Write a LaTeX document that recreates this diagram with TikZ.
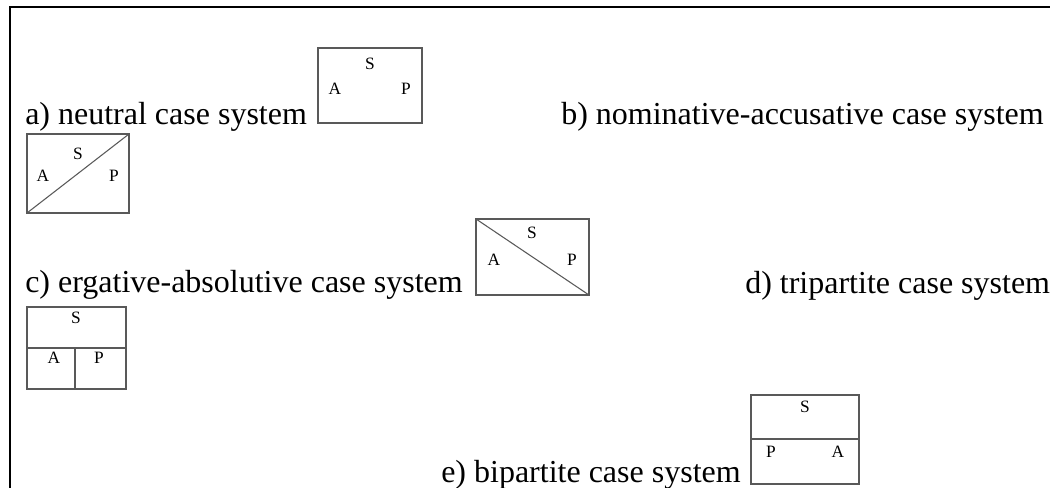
\documentclass[tikz,border=0pt]{standalone}
\usepackage{fontspec}
\setmainfont{Liberation Serif}
\begin{document}
\begin{tikzpicture}[x=0.75pt,y=-0.75pt,
  caption/.style={anchor=base west,inner sep=0pt,font=\fontsize{24}{28}\selectfont},
  lbl/.style={inner sep=0pt,font=\fontsize{13}{15}\selectfont},
  frame/.style={draw=black,line width=2.2pt},
  cbox/.style={draw=black!65,line width=0.8pt},
  cline/.style={draw=black!65,line width=0.8pt}]
\useasboundingbox (0,0) rectangle (1050,488);
\begin{scope}
\clip (0,0) rectangle (1050,488);
\draw[frame] (1060,7) -- (10,7) -- (10,500);
\end{scope}
% a
\node[caption] (ta) at (25,125) {a) neutral case system};
\draw[cbox] (318,48) rectangle (422,123);
\node[lbl] (aS) at (370,64) {S};
\node[lbl] (aA) at (335,89) {A};
\node[lbl] (aP) at (406,89) {P};
% b
\node[caption] (tb) at (561,125) {b) nominative-accusative case system};
\coordinate (bsw) at (27,213);
\coordinate (bne) at (129,134);
\draw[cbox] (bsw) rectangle (bne);
\draw[cline] (bsw) -- (bne);
\node[lbl] (bS) at (78,154) {S};
\node[lbl] (bA) at (43,176) {A};
\node[lbl] (bP) at (114,176) {P};
% c
\node[caption] (tc) at (25,293) {c) ergative-absolutive case system};
\coordinate (cnw) at (476,219);
\coordinate (cse) at (589,295);
\draw[cbox] (cnw) rectangle (cse);
\draw[cline] (cnw) -- (cse);
\node[lbl] (cS) at (532,233) {S};
\node[lbl] (cA) at (494,260) {A};
\node[lbl] (cP) at (572,260) {P};
% d
\node[caption] (td) at (745,294) {d) tripartite case system};
\draw[cbox] (27,307) rectangle (126,389);
\coordinate (dml) at (27,348);
\coordinate (dmr) at (126,348);
\coordinate (dmt) at (75,348);
\coordinate (dmb) at (75,389);
\draw[cline] (dml) -- (dmr);
\draw[cline] (dmt) -- (dmb);
\node[lbl] (dS) at (76,318) {S};
\node[lbl] (dA) at (54,358) {A};
\node[lbl] (dP) at (99,358) {P};
% e
\node[caption] (te) at (441,482) {e) bipartite case system};
\draw[cbox] (751,395) rectangle (859,484);
\coordinate (eml) at (751,439);
\coordinate (emr) at (859,439);
\draw[cline] (eml) -- (emr);
\node[lbl] (eS) at (805,407) {S};
\node[lbl] (eP) at (771,452) {P};
\node[lbl] (eA) at (838,452) {A};
\end{tikzpicture}
\end{document}
